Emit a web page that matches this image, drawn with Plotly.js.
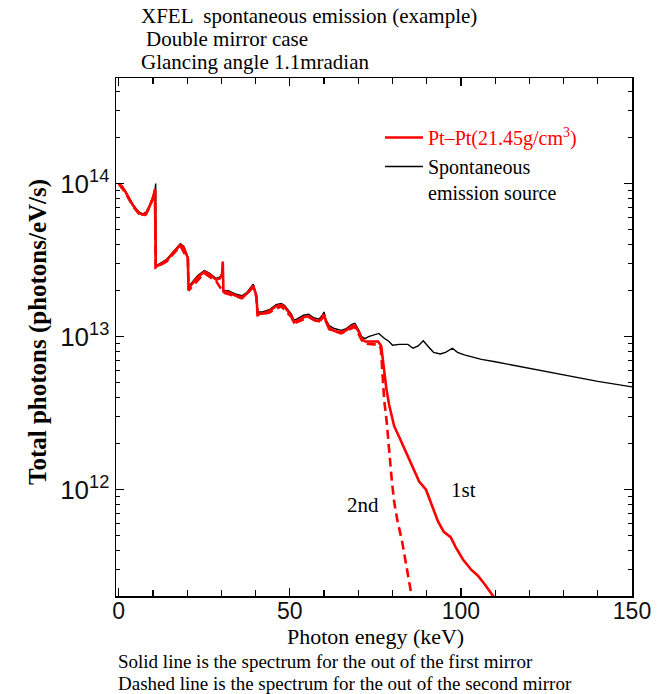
<!DOCTYPE html>
<html><head><meta charset="utf-8">
<script src="https://cdn.plot.ly/plotly-3.0.1.min.js"></script>
<style>body{margin:0;background:#fff}#c{width:671px;height:694px}</style>
</head><body><div id="c"></div>
<script>
// Spontaneous emission source (black)
const srcE = [0,1,2,3,4,5,6,7,8,9,10,10.6,10.8,10.9,12,14,16,18,19,20.2,20.4,21,23,25,26.5,28.5,29.5,30.3,30.6,32,34,36,37.5,39.3,40.2,40.6,42,44,46,47.5,48.5,49.5,50.5,51.2,52,54,55.5,57,58.5,59.5,60,60.5,61.5,63,65,66.5,68,69,70.2,71,72,73,74.5,76,77.5,79,80,82,84.5,86,87.5,89,90.5,92,94,95.5,97.5,99,101,104,106,110,120,130,140,150];
const srcF = [1.0e14,9.6e13,8.9e13,8.1e13,7.4e13,6.9e13,6.5e13,6.35e13,6.5e13,7.2e13,8.2e13,9.0e13,1.0e14,2.9e13,3.0e13,3.2e13,3.6e13,4.05e13,3.9e13,3.3e13,2.1e13,2.2e13,2.5e13,2.7e13,2.6e13,2.4e13,2.45e13,2.6e13,2.0e13,2.0e13,1.9e13,1.85e13,1.95e13,2.2e13,1.9e13,1.45e13,1.45e13,1.5e13,1.62e13,1.65e13,1.6e13,1.5e13,1.4e13,1.28e13,1.3e13,1.38e13,1.4e13,1.33e13,1.3e13,1.38e13,1.45e13,1.3e13,1.18e13,1.13e13,1.1e13,1.13e13,1.2e13,1.22e13,1.1e13,1.0e13,9.7e12,1.0e13,1.03e13,1.05e13,9.8e12,9.3e12,8.8e12,8.9e12,8.9e12,8.4e12,8.7e12,9.4e12,8.6e12,7.9e12,7.7e12,7.9e12,8.4e12,7.9e12,7.6e12,7.3e12,7.1e12,6.85e12,6.2e12,5.6e12,5.1e12,4.7e12];

// Pt-Pt, out of the first mirror (red solid)
const m1E = [0,1,2,3,4,5,6,7,8,9,10,10.6,10.8,12,14,16,18,19,20.2,20.4,21,23,25,26.5,28.5,29.5,30.2,30.4,30.6,32,34,36,37.5,39.3,40.2,40.6,42,44,46,47.5,48.5,49.5,50.5,51.2,52,54,55.5,57,58.5,59.5,60,60.5,61.5,63,65,66.5,68,69,70.2,71,72,73,74.5,75.8,76.7,77.5,78.2,79,80.5,82,84,86,87.8,89.8,91.5,93.3,95,97,98.5,100.6,103,104.9,107,109.3,111];
const m1F = [1.0e14,9.55e13,8.8e13,8.0e13,7.3e13,6.8e13,6.4e13,6.25e13,6.4e13,7.1e13,8.05e13,9.2e13,2.87e13,2.95e13,3.15e13,3.55e13,3.97e13,3.83e13,3.25e13,2.05e13,2.15e13,2.45e13,2.65e13,2.55e13,2.35e13,2.4e13,2.55e13,3.1e13,1.97e13,1.96e13,1.86e13,1.81e13,1.91e13,2.15e13,1.86e13,1.41e13,1.41e13,1.47e13,1.58e13,1.61e13,1.56e13,1.46e13,1.36e13,1.24e13,1.26e13,1.34e13,1.36e13,1.29e13,1.26e13,1.34e13,1.4e13,1.26e13,1.14e13,1.09e13,1.07e13,1.1e13,1.17e13,1.18e13,1.07e13,9.7e12,9.3e12,9.3e12,9.35e12,9.3e12,8.7e12,6.0e12,4.6e12,3.6e12,2.6e12,2.2e12,1.75e12,1.38e12,1.13e12,1.0e12,7.8e11,6.2e11,5.3e11,4.9e11,4.2e11,3.5e11,3.0e11,2.75e11,2.4e11,2.04e11,1.8e11];

// Pt-Pt, out of the second mirror (red dashed)
const m2E = [0,2,4,6,7,8,10,10.6,10.8,14,18,20.2,20.4,25,28.5,30.6,36,39.3,40.2,40.6,44,47.5,50.5,51.2,55.5,58.5,60,61.5,65,69,71,72,74.5,75.8,76.6,77.2,77.6,78.3,79,79.8,80.5,81.5,82.8,84,85.5,86];
const m2F = [1.0e14,8.7e13,7.2e13,6.3e13,6.15e13,6.3e13,7.95e13,9.1e13,2.83e13,3.1e13,3.92e13,3.2e13,2.0e13,2.6e13,2.3e13,1.94e13,1.78e13,2.1e13,1.82e13,1.38e13,1.44e13,1.58e13,1.34e13,1.22e13,1.34e13,1.24e13,1.37e13,1.12e13,1.05e13,1.16e13,9.5e12,9.0e12,8.9e12,8.9e12,8.4e12,5.5e12,3.8e12,2.8e12,1.78e12,1.15e12,8.3e11,6.2e11,4.6e11,3.2e11,2.04e11,1.8e11];

const xTickVals = [0,50,100,150];
const yTickVals = [1e12,1e13,1e14];
const yTickText = ['10<sup>12</sup>','10<sup>13</sup>','10<sup>14</sup>'];

// layout helpers (pixel -> paper)
const L=116, R=632, T=78, B=596;
const px = v => (v-L)/(R-L);
const py = v => 1-(v-T)/(B-T);
const serif = '"Liberation Serif", "Times New Roman", serif';
const sans = '"Liberation Sans", Arial, sans-serif';

const yMinor = [];
for (let d=11; d<=14; d++) for (let k=2; k<=9; k++) yMinor.push(k*Math.pow(10,d));

const traces = [
  {x: srcE, y: srcF, type:'scatter', mode:'lines', name:'Spontaneous<br>emission source',
   line:{color:'#000', width:1.4}, legendrank:2},
  {x: m2E, y: m2F, type:'scatter', mode:'lines', showlegend:false,
   line:{color:'#ff0000', width:2.6, dash:'9px,5px'}},
  {x: m1E, y: m1F, type:'scatter', mode:'lines', name:'<span style="color:#ff0000">Pt–Pt(21.45g/cm<sup>3</sup>)</span>',
   line:{color:'#ff0000', width:2.6}, legendrank:1}
];

const layout = {
  width:671, height:694,
  margin:{l:L, r:671-R, t:T, b:694-B},
  paper_bgcolor:'#fff', plot_bgcolor:'#fff',
  showlegend:true,
  legend:{x:px(380), y:py(118), xanchor:'left', yanchor:'top', bgcolor:'rgba(0,0,0,0)',
          font:{family:serif, size:20, color:'#000'}, tracegroupgap:0, itemwidth:38, valign:'top'},
  xaxis:{range:[-0.8,150], tickvals:xTickVals, ticks:'inside', ticklen:8, tickwidth:1.2, tickcolor:'#000',
         showline:true, linecolor:'#000', linewidth:1.5, mirror:'allticks', showgrid:false, zeroline:false,
         minor:{dtick:10, tick0:0, ticks:'inside', ticklen:6, tickwidth:1.2, tickcolor:'#000', showgrid:false},
         tickfont:{family:sans, size:23, color:'#111'}, ticklabelstandoff:-6},
  yaxis:{type:'log', range:[Math.log10(2.02e11), Math.log10(4.9e14)], tickvals:yTickVals, ticktext:yTickText,
         ticks:'inside', ticklen:8, tickwidth:1.2, tickcolor:'#000',
         showline:true, linecolor:'#000', linewidth:1.5, mirror:'allticks', showgrid:false, zeroline:false,
         minor:{tickvals:yMinor, ticks:'inside', ticklen:4, tickwidth:1.2, tickcolor:'#000', showgrid:false},
         tickfont:{family:sans, size:26, color:'#111'}},
  annotations:[
    {xref:'paper', yref:'paper', x:px(139), y:py(16), xanchor:'left', yanchor:'middle', showarrow:false,
     text:'XFEL  spontaneous emission (example)', font:{family:serif, size:21, color:'#000'}},
    {xref:'paper', yref:'paper', x:px(144), y:py(39), xanchor:'left', yanchor:'middle', showarrow:false,
     text:'Double mirror case', font:{family:serif, size:21, color:'#000'}},
    {xref:'paper', yref:'paper', x:px(139), y:py(62), xanchor:'left', yanchor:'middle', showarrow:false,
     text:'Glancing angle 1.1mradian', font:{family:serif, size:21, color:'#000'}},
    {xref:'paper', yref:'paper', x:px(38), y:py(332), xanchor:'center', yanchor:'middle', showarrow:false, textangle:-90,
     text:'<b>Total photons (photons/eV/s)</b>', font:{family:serif, size:25, color:'#000'}},
    {xref:'paper', yref:'paper', x:px(375), y:py(636), xanchor:'center', yanchor:'middle', showarrow:false,
     text:'Photon enegy (keV)', font:{family:serif, size:22, color:'#000'}},
    {xref:'paper', yref:'paper', x:px(363), y:py(505), xanchor:'center', yanchor:'middle', showarrow:false,
     text:'2nd', font:{family:serif, size:21, color:'#000'}},
    {xref:'paper', yref:'paper', x:px(463), y:py(490), xanchor:'center', yanchor:'middle', showarrow:false,
     text:'1st', font:{family:serif, size:21, color:'#000'}},
    {xref:'paper', yref:'paper', x:px(116), y:py(661), xanchor:'left', yanchor:'middle', showarrow:false,
     text:'Solid line is the spectrum for the out of the first mirror', font:{family:serif, size:19, color:'#000'}},
    {xref:'paper', yref:'paper', x:px(116), y:py(683), xanchor:'left', yanchor:'middle', showarrow:false,
     text:'Dashed line is the spectrum for the out of the second mirror', font:{family:serif, size:19, color:'#000'}}
  ]
};
Plotly.newPlot('c', traces, layout, {displayModeBar:false, staticPlot:true});
</script></body></html>
